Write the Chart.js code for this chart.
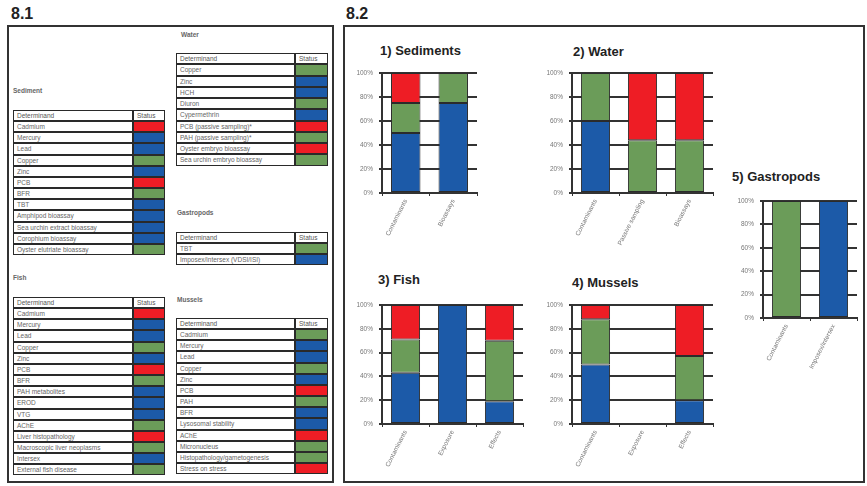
<!DOCTYPE html>
<html>
<head>
<meta charset="utf-8">
<script src="https://cdn.jsdelivr.net/npm/chart.js@4.4.1/dist/chart.umd.min.js"></script>
<style>
  body { margin:0; background:#fff; width:867px; height:486px; overflow:hidden; position:relative;
         font-family:"Liberation Sans", Arial, sans-serif; }
  .panel-no { position:absolute; font-weight:bold; font-size:16px; line-height:16px; color:#222; }
  .frame { position:absolute; border:2px solid #333; box-sizing:border-box; }
  .sec { position:absolute; font-size:6.5px; line-height:8px; font-weight:bold; color:#666; white-space:nowrap; }
  .cell { position:absolute; box-sizing:border-box; border:1px solid #2a2a2a; background:#fff;
          font-size:6.5px; color:#666; padding-left:3px; white-space:nowrap; overflow:hidden; }
  .ctitle { position:absolute; font-weight:bold; font-size:13px; line-height:16px; color:#222; white-space:nowrap; }
  canvas { position:absolute; }
</style>
</head>
<body>
<div class="panel-no" style="left:11px;top:6px;">8.1</div>
<div class="panel-no" style="left:346px;top:6px;">8.2</div>
<div class="frame" style="left:7px;top:25px;width:327px;height:458px;"></div>
<div class="frame" style="left:343px;top:25px;width:522px;height:458px;"></div>

<script>
// ---- Status tables (8.1) ----
const sedimentDeterminands = ['Cadmium','Mercury','Lead','Copper','Zinc','PCB','BFR','TBT',
  'Amphipod bioassay','Sea urchin extract bioassay','Corophium bioassay','Oyster elutriate bioassay'];
const sedimentStatus = ['R','B','B','G','B','R','G','B','B','B','B','G'];

const waterDeterminands = ['Copper','Zinc','HCH','Diuron','Cypermethrin','PCB (passive sampling)*',
  'PAH (passive sampling)*','Oyster embryo bioassay','Sea urchin embryo bioassay'];
const waterStatus = ['G','B','B','G','B','R','G','R','G'];

const gastropodDeterminands = ['TBT','Imposex/intersex (VDSI/ISI)'];
const gastropodStatus = ['G','B'];

const fishDeterminands = ['Cadmium','Mercury','Lead','Copper','Zinc','PCB','BFR','PAH metabolites',
  'EROD','VTG','AChE','Liver histopathology','Macroscopic liver neoplasms','Intersex','External fish disease'];
const fishStatus = ['R','B','B','G','B','R','G','B','B','B','G','R','G','B','G'];

const musselDeterminands = ['Cadmium','Mercury','Lead','Copper','Zinc','PCB','PAH','BFR',
  'Lysosomal stability','AChE','Micronucleus','Histopathology/gametogenesis','Stress on stress'];
const musselStatus = ['G','B','B','G','B','R','G','B','B','R','G','G','R'];

// ---- Proportion of determinands per status class (8.2), in % ----
const sedimentCats = ['Contaminants','Bioassays'];
const sedimentBlue  = [50, 75];
const sedimentGreen = [25, 25];
const sedimentRed   = [25, 0];

const waterCats = ['Contaminants','Passive sampling','Bioassays'];
const waterBlue  = [60, 0, 0];
const waterGreen = [40, 44, 44];
const waterRed   = [0, 56, 56];

const fishCats = ['Contaminants','Exposure','Effects'];
const fishBlue  = [43, 100, 19];
const fishGreen = [28, 0, 51];
const fishRed   = [29, 0, 30];

const musselCats = ['Contaminants','Exposure','Effects'];
const musselBlue  = [50, 0, 20];
const musselGreen = [38, 0, 37];
const musselRed   = [12, 0, 43];

const gastropodCats = ['Contaminants','Imposex/intersex'];
const gastropodBlue  = [0, 100];
const gastropodGreen = [100, 0];
const gastropodRed   = [0, 0];

const COLORS = { B:'#1c5aa8', G:'#6b9c59', R:'#ee1d25' };

function addDiv(cls, style, text) {
  const d = document.createElement('div');
  d.className = cls;
  Object.assign(d.style, style);
  if (text !== undefined) d.textContent = text;
  document.body.appendChild(d);
  return d;
}

function statusTable(title, titlePos, left, top, right, statusLeft, rowH, names, status) {
  addDiv('sec', { left: titlePos[0] + 'px', top: titlePos[1] + 'px' }, title);
  const rows = [['Determinand', 'Status', null]].concat(names.map((n, i) => [n, '', status[i]]));
  rows.forEach((r, i) => {
    const y0 = Math.round(top + i * rowH), y1 = Math.round(top + (i + 1) * rowH);
    const h = y1 - y0;
    addDiv('cell', { left: left + 'px', top: y0 + 'px', width: (statusLeft - left) + 'px', height: h + 'px',
      lineHeight: (h - 2) + 'px', color: i === 0 ? '#555' : '#666' }, r[0]);
    const s = addDiv('cell', { left: statusLeft + 'px', top: y0 + 'px', width: (right - statusLeft) + 'px',
      height: h + 'px', lineHeight: (h - 2) + 'px', color: '#555' }, r[1]);
    if (r[2]) s.style.background = COLORS[r[2]];
  });
}

statusTable('Water', [181, 31], 176, 53, 328, 295, 11.25, waterDeterminands, waterStatus);
statusTable('Sediment', [13, 87], 13, 110, 165, 133, 11.15, sedimentDeterminands, sedimentStatus);
statusTable('Gastropods', [177, 209], 176, 232, 328, 295, 11.1, gastropodDeterminands, gastropodStatus);
statusTable('Fish', [13, 274], 13, 297, 165, 133, 11.15, fishDeterminands, fishStatus);
statusTable('Mussels', [177, 296], 176, 318, 328, 295, 11.15, musselDeterminands, musselStatus);

// ---- Stacked bar charts ----
function stackedChart(title, titlePos, plot, cats, blue, green, red) {
  addDiv('ctitle', { left: titlePos[0] + 'px', top: (titlePos[1] - 8) + 'px' }, title);
  const yW = 37, padT = 6, padR = 4, xH = 62;
  const c = document.createElement('canvas');
  const w = yW + plot.w + padR, h = padT + plot.h + xH;
  c.width = w; c.height = h;
  c.style.left = (plot.x - yW) + 'px';
  c.style.top = (plot.y - padT) + 'px';
  c.style.width = w + 'px'; c.style.height = h + 'px';
  document.body.appendChild(c);
  const ds = (label, vals, col) => ({
    label, data: vals.map(v => v === 0 ? null : v), backgroundColor: col,
    borderColor: '#2b2b2b', borderWidth: 1, borderSkipped: false,
    categoryPercentage: 1, barPercentage: 0.62
  });
  new Chart(c, {
    type: 'bar',
    data: { labels: cats, datasets: [
      ds('Below BAC', blue, COLORS.B), ds('Below EAC', green, COLORS.G), ds('Above EAC', red, COLORS.R)
    ] },
    options: {
      responsive: false, animation: false, devicePixelRatio: 1,
      layout: { padding: { top: padT, right: padR, left: 0, bottom: 0 } },
      plugins: { legend: { display: false }, tooltip: { enabled: false } },
      scales: {
        x: {
          stacked: true,
          grid: { display: true, drawOnChartArea: false, color: '#333', lineWidth: 1, tickLength: 3 },
          border: { color: '#333', width: 2 },
          ticks: { font: { size: 6.5, family: '"Liberation Sans", Arial' }, color: '#777',
                   minRotation: 63, maxRotation: 63, autoSkip: false, padding: 2 },
          afterFit: s => { s.height = xH; }
        },
        y: {
          stacked: true, min: 0, max: 100,
          ticks: { stepSize: 20, callback: v => v + '%', font: { size: 6.5, family: '"Liberation Sans", Arial' },
                   color: '#777', padding: 6 },
          grid: { color: '#333', lineWidth: 2, tickLength: 3 },
          border: { color: '#333', width: 2 },
          afterFit: s => { s.width = yW; }
        }
      }
    }
  });
}

stackedChart('1) Sediments', [380, 51], { x: 382, y: 69, w: 95, h: 124 }, sedimentCats, sedimentBlue, sedimentGreen, sedimentRed);
stackedChart('2) Water', [573, 52], { x: 572, y: 69, w: 141, h: 124 }, waterCats, waterBlue, waterGreen, waterRed);
stackedChart('5) Gastropods', [732, 177], { x: 763, y: 197, w: 94, h: 121 }, gastropodCats, gastropodBlue, gastropodGreen, gastropodRed);
stackedChart('3) Fish', [378, 280], { x: 382, y: 301, w: 141, h: 123 }, fishCats, fishBlue, fishGreen, fishRed);
stackedChart('4) Mussels', [572, 283], { x: 572, y: 301, w: 141, h: 123 }, musselCats, musselBlue, musselGreen, musselRed);
</script>
</body>
</html>
